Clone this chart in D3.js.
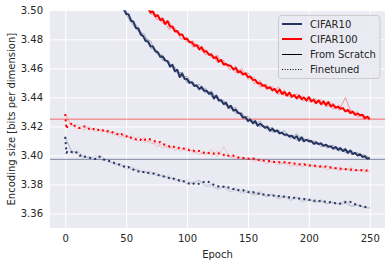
<!DOCTYPE html>
<html>
<head>
<meta charset="utf-8">
<script src="https://cdn.jsdelivr.net/npm/d3@7"></script>
<style>
  body { margin: 0; background: #fff; }
  text { font-family: "DejaVu Sans", sans-serif; fill: #262626; }
</style>
</head>
<body>
<div id="chart"></div>
<script>
// tick labels
var xTicks = [0, 50, 100, 150, 200, 250];
var yTicks = [3.36, 3.38, 3.40, 3.42, 3.44, 3.46, 3.48, 3.50];

// reference lines (bits per dimension)
var refCifar10 = 3.3973;
var refCifar100 = 3.4250;

// from scratch, mean curves (epochs 40/60 .. 250 step 2)
var c10ScratchStart = 40;
var c10Scratch = [
  3.5090, 3.5062, 3.5058, 3.5022, 3.5014,
  3.4975, 3.4972, 3.4928, 3.4921, 3.4878,
  3.4875, 3.4832, 3.4822, 3.4788, 3.4785,
  3.4752, 3.4750, 3.4718, 3.4712, 3.4680,
  3.4681, 3.4655, 3.4650, 3.4612, 3.4625,
  3.4580, 3.4590, 3.4540, 3.4566, 3.4528,
  3.4526, 3.4500, 3.4505, 3.4478, 3.4482,
  3.4458, 3.4472, 3.4445, 3.4446, 3.4425,
  3.4432, 3.4392, 3.4412, 3.4378, 3.4380,
  3.4354, 3.4364, 3.4328, 3.4342, 3.4310,
  3.4315, 3.4292, 3.4288, 3.4260, 3.4264,
  3.4238, 3.4248, 3.4222, 3.4236, 3.4205,
  3.4218, 3.4205, 3.4190, 3.4198, 3.4170,
  3.4184, 3.4165, 3.4172, 3.4152, 3.4156,
  3.4142, 3.4145, 3.4130, 3.4136, 3.4118,
  3.4132, 3.4102, 3.4125, 3.4098, 3.4108,
  3.4098, 3.4100, 3.4080, 3.4090, 3.4078,
  3.4082, 3.4066, 3.4074, 3.4060, 3.4064,
  3.4048, 3.4058, 3.4038, 3.4050, 3.4030,
  3.4042, 3.4018, 3.4034, 3.4010, 3.4018,
  3.4000, 3.4008, 3.3990, 3.3994, 3.3978,
  3.3982
];
var c100ScratchStart = 60;
var c100Scratch = [
  3.5080, 3.5055, 3.5055, 3.5022, 3.5020,
  3.4985, 3.4992, 3.4958, 3.4966, 3.4932,
  3.4940, 3.4906, 3.4926, 3.4888, 3.4888,
  3.4855, 3.4858, 3.4830, 3.4834, 3.4802,
  3.4804, 3.4780, 3.4780, 3.4756, 3.4760,
  3.4732, 3.4746, 3.4714, 3.4718, 3.4694,
  3.4696, 3.4670, 3.4678, 3.4646, 3.4658,
  3.4628, 3.4630, 3.4620, 3.4616, 3.4592,
  3.4602, 3.4572, 3.4580, 3.4558, 3.4566,
  3.4540, 3.4543, 3.4521, 3.4520, 3.4497,
  3.4498, 3.4480, 3.4483, 3.4462, 3.4470,
  3.4450, 3.4458, 3.4433, 3.4454, 3.4424,
  3.4436, 3.4412, 3.4433, 3.4404, 3.4416,
  3.4394, 3.4413, 3.4388, 3.4399, 3.4377,
  3.4401, 3.4372, 3.4384, 3.4360, 3.4380,
  3.4354, 3.4373, 3.4346, 3.4368, 3.4337,
  3.4348, 3.4328, 3.4336, 3.4322, 3.4326,
  3.4304, 3.4314, 3.4292, 3.4302, 3.4280,
  3.4288, 3.4277, 3.4280, 3.4256, 3.4267,
  3.4250
];

// from scratch, single runs (step 5)
var c10ScratchRunA = [
  3.5080, 3.5055, 3.4995, 3.4930, 3.4880, 3.4810, 3.4790, 3.4700, 3.4690, 3.4625,
  3.4610, 3.4540, 3.4545, 3.4480, 3.4490, 3.4430, 3.4445, 3.4385, 3.4380, 3.4320,
  3.4330, 3.4260, 3.4270, 3.4215, 3.4235, 3.4180, 3.4195, 3.4150, 3.4170, 3.4115,
  3.4150, 3.4095, 3.4115, 3.4075, 3.4090, 3.4050, 3.4070, 3.4030, 3.4050, 3.4005,
  3.4020, 3.3985, 3.3970
];
var c10ScratchRunB = [
  3.5100, 3.5030, 3.4970, 3.4905, 3.4855, 3.4835, 3.4740, 3.4725, 3.4655, 3.4650,
  3.4575, 3.4570, 3.4500, 3.4505, 3.4450, 3.4465, 3.4405, 3.4410, 3.4350, 3.4345,
  3.4290, 3.4295, 3.4230, 3.4240, 3.4195, 3.4205, 3.4160, 3.4175, 3.4135, 3.4140,
  3.4105, 3.4125, 3.4090, 3.4100, 3.4060, 3.4075, 3.4040, 3.4055, 3.4020, 3.4035,
  3.3995, 3.4005, 3.3985
];
var c100ScratchRunA = [
  3.5070, 3.5050, 3.4975, 3.4970, 3.4910, 3.4925, 3.4850, 3.4840, 3.4780, 3.4790,
  3.4725, 3.4730, 3.4675, 3.4690, 3.4620, 3.4625, 3.4570, 3.4600, 3.4525, 3.4540,
  3.4470, 3.4490, 3.4440, 3.4470, 3.4410, 3.4430, 3.4385, 3.4410, 3.4370, 3.4395,
  3.4345, 3.4370, 3.4320, 3.4345, 3.4300, 3.4310, 3.4265, 3.4280, 3.4240
];
var c100ScratchRunB = [
  3.5095, 3.5020, 3.5010, 3.4935, 3.4950, 3.4870, 3.4880, 3.4800, 3.4815, 3.4745,
  3.4760, 3.4695, 3.4705, 3.4640, 3.4655, 3.4590, 3.4615, 3.4550, 3.4570, 3.4495,
  3.4515, 3.4455, 3.4475, 3.4420, 3.4450, 3.4395, 3.4425, 3.4375, 3.4410, 3.4355,
  3.4385, 3.4335, 3.4360, 3.4310, 3.4400, 3.4290, 3.4300, 3.4250, 3.4270
];

// finetuned, mean curves (epochs 0, 1, 2, 4, ... 250)
var c10Finetuned = [
  3.4128, 3.4018, 3.4030,
  3.4026, 3.4022, 3.4028, 3.4016, 3.3998,
  3.4004, 3.3992, 3.3990, 3.3984, 3.3980,
  3.3975, 3.3978, 3.3992, 3.3986, 3.3970,
  3.3966, 3.3962, 3.3955, 3.3950, 3.3946,
  3.3938, 3.3932, 3.3924, 3.3915, 3.3920,
  3.3908, 3.3902, 3.3895, 3.3890, 3.3893,
  3.3885, 3.3889, 3.3880, 3.3878, 3.3876,
  3.3872, 3.3866, 3.3860, 3.3858, 3.3852,
  3.3848, 3.3842, 3.3844, 3.3836, 3.3832,
  3.3826, 3.3828, 3.3818, 3.3810, 3.3806,
  3.3812, 3.3804, 3.3800, 3.3806, 3.3811,
  3.3818, 3.3822, 3.3816, 3.3805, 3.3798,
  3.3792, 3.3786, 3.3782, 3.3785, 3.3776,
  3.3780, 3.3772, 3.3768, 3.3770, 3.3762,
  3.3758, 3.3761, 3.3752, 3.3748, 3.3744,
  3.3748, 3.3740, 3.3736, 3.3739, 3.3730,
  3.3734, 3.3726, 3.3728, 3.3722, 3.3725,
  3.3718, 3.3720, 3.3714, 3.3716, 3.3710,
  3.3712, 3.3706, 3.3709, 3.3702, 3.3704,
  3.3698, 3.3700, 3.3694, 3.3692, 3.3695,
  3.3688, 3.3690, 3.3684, 3.3686, 3.3680,
  3.3682, 3.3676, 3.3679, 3.3674, 3.3670,
  3.3672, 3.3668, 3.3674, 3.3678, 3.3682,
  3.3680, 3.3676, 3.3664, 3.3658, 3.3654,
  3.3650, 3.3646, 3.3642, 3.3640
];
var c100Finetuned = [
  3.4285, 3.4183, 3.4205,
  3.4212, 3.4224, 3.4202, 3.4192, 3.4188,
  3.4196, 3.4199, 3.4186, 3.4183, 3.4190,
  3.4176, 3.4182, 3.4171, 3.4178, 3.4168,
  3.4172, 3.4160, 3.4163, 3.4152, 3.4150,
  3.4140, 3.4148, 3.4135, 3.4131, 3.4138,
  3.4122, 3.4118, 3.4110, 3.4102, 3.4109,
  3.4098, 3.4112, 3.4115, 3.4110, 3.4106,
  3.4095, 3.4088, 3.4092, 3.4078, 3.4074,
  3.4068, 3.4060, 3.4066, 3.4055, 3.4058,
  3.4049, 3.4052, 3.4045, 3.4041, 3.4036,
  3.4039, 3.4030, 3.4026, 3.4031, 3.4022,
  3.4018, 3.4024, 3.4016, 3.4020, 3.4012,
  3.4019, 3.4014, 3.4008, 3.4004, 3.4010,
  3.3998, 3.3994, 3.3999, 3.3990, 3.3986,
  3.3989, 3.3982, 3.3984, 3.3978, 3.3976,
  3.3980, 3.3972, 3.3968, 3.3971, 3.3964,
  3.3966, 3.3960, 3.3962, 3.3958, 3.3955,
  3.3958, 3.3952, 3.3950, 3.3954, 3.3946,
  3.3948, 3.3942, 3.3945, 3.3938, 3.3940,
  3.3936, 3.3939, 3.3932, 3.3933, 3.3928,
  3.3931, 3.3926, 3.3922, 3.3925, 3.3920,
  3.3923, 3.3916, 3.3918, 3.3914, 3.3912,
  3.3916, 3.3908, 3.3910, 3.3905, 3.3907,
  3.3902, 3.3904, 3.3900, 3.3898, 3.3901,
  3.3896, 3.3894, 3.3897, 3.3892
];

// finetuned, single runs (epochs 0 .. 250 step 5)
var c10FinetunedRunA = [
  3.4120, 3.4035, 3.4010, 3.3985, 3.3995, 3.3970, 3.3995, 3.3955, 3.3950, 3.3925,
  3.3930, 3.3900, 3.3905, 3.3880, 3.3890, 3.3860, 3.3865, 3.3840, 3.3845, 3.3820,
  3.3830, 3.3800, 3.3825, 3.3795, 3.3800, 3.3775, 3.3790, 3.3765, 3.3775, 3.3750,
  3.3760, 3.3735, 3.3750, 3.3720, 3.3735, 3.3710, 3.3725, 3.3700, 3.3715, 3.3690,
  3.3705, 3.3680, 3.3695, 3.3670, 3.3680, 3.3665, 3.3690, 3.3650, 3.3660, 3.3640,
  3.3635
];
var c10FinetunedRunB = [
  3.4135, 3.4020, 3.4030, 3.3995, 3.3980, 3.4000, 3.3965, 3.3975, 3.3935, 3.3945,
  3.3905, 3.3920, 3.3885, 3.3895, 3.3870, 3.3880, 3.3850, 3.3860, 3.3825, 3.3835,
  3.3805, 3.3815, 3.3830, 3.3785, 3.3790, 3.3765, 3.3780, 3.3750, 3.3760, 3.3740,
  3.3745, 3.3725, 3.3740, 3.3715, 3.3725, 3.3700, 3.3715, 3.3690, 3.3705, 3.3680,
  3.3695, 3.3675, 3.3685, 3.3665, 3.3675, 3.3660, 3.3670, 3.3650, 3.3655, 3.3645,
  3.3640
];
var c100FinetunedRunA = [
  3.4280, 3.4215, 3.4185, 3.4205, 3.4178, 3.4190, 3.4160, 3.4175, 3.4140, 3.4150,
  3.4120, 3.4135, 3.4095, 3.4125, 3.4080, 3.4085, 3.4050, 3.4070, 3.4035, 3.4050,
  3.4030, 3.4040, 3.4005, 3.4025, 3.4000, 3.4030, 3.3995, 3.4000, 3.3975, 3.3990,
  3.3970, 3.3985, 3.3955, 3.3975, 3.3950, 3.3960, 3.3940, 3.3955, 3.3925, 3.3945,
  3.3925, 3.3935, 3.3915, 3.3930, 3.3905, 3.3920, 3.3900, 3.3915, 3.3895, 3.3905,
  3.3885
];
var c100FinetunedRunB = [
  3.4290, 3.4200, 3.4215, 3.4175, 3.4200, 3.4165, 3.4180, 3.4150, 3.4165, 3.4125,
  3.4145, 3.4105, 3.4130, 3.4090, 3.4100, 3.4060, 3.4080, 3.4045, 3.4060, 3.4030,
  3.4055, 3.4015, 3.4030, 3.4000, 3.4040, 3.3990, 3.4060, 3.3985, 3.3995, 3.3970,
  3.3985, 3.3960, 3.3970, 3.3945, 3.3960, 3.3935, 3.3950, 3.3925, 3.3940, 3.3920,
  3.3945, 3.3915, 3.3925, 3.3900, 3.3915, 3.3895, 3.3910, 3.3890, 3.3900, 3.3885,
  3.3895
];

var navy = "#26355f",
    red = "#ff0000";

var width = 392,
    height = 266;
var plotLeft = 50, plotRight = 385, plotTop = 10.3, plotBottom = 228;

var svg = d3.select("#chart")
    .append("svg")
    .attr("width", width)
    .attr("height", height);

var x = d3.scaleLinear().domain([-12.5, 262.5]).range([plotLeft, plotRight]);
var y = d3.scaleLinear().domain([3.35, 3.50]).range([plotBottom, plotTop]);

// plot background
svg.append("rect")
    .attr("x", plotLeft).attr("y", plotTop)
    .attr("width", plotRight - plotLeft).attr("height", plotBottom - plotTop)
    .attr("fill", "#eaeaf2");

svg.append("clipPath").attr("id", "clip")
    .append("rect")
    .attr("x", plotLeft).attr("y", plotTop)
    .attr("width", plotRight - plotLeft).attr("height", plotBottom - plotTop);

// grid
var xAxis = svg.append("g")
    .attr("transform", "translate(0," + plotBottom + ")")
    .call(d3.axisBottom(x).tickValues(xTicks).tickSize(-(plotBottom - plotTop)).tickPadding(7));
var yAxis = svg.append("g")
    .attr("transform", "translate(" + plotLeft + ",0)")
    .call(d3.axisLeft(y).tickValues(yTicks).tickFormat(d3.format(".2f")).tickSize(-(plotRight - plotLeft)).tickPadding(7));

[xAxis, yAxis].forEach(function(a) {
    a.select(".domain").remove();
    a.selectAll(".tick line").attr("stroke", "#ffffff").attr("stroke-width", 1);
    a.selectAll(".tick text")
        .attr("font-size", 10)
        .attr("font-family", "DejaVu Sans, sans-serif")
        .attr("fill", "#262626");
});

var plot = svg.append("g").attr("clip-path", "url(#clip)");

// horizontal reference lines
plot.append("line")
    .attr("x1", plotLeft).attr("x2", plotRight)
    .attr("y1", y(refCifar100)).attr("y2", y(refCifar100))
    .attr("stroke", red).attr("stroke-opacity", 0.55).attr("stroke-width", 1);
plot.append("line")
    .attr("x1", plotLeft).attr("x2", plotRight)
    .attr("y1", y(refCifar10)).attr("y2", y(refCifar10))
    .attr("stroke", navy).attr("stroke-opacity", 0.55).attr("stroke-width", 1);

function toPoints(values, epochs) {
    var n = Math.min(values.length, epochs.length);
    var pts = [];
    for (var i = 0; i < n; i++) pts.push([epochs[i], values[i]]);
    return pts;
}

var line = d3.line()
    .x(function(d) { return x(d[0]); })
    .y(function(d) { return y(d[1]); });

var fineEpochs = [0, 1].concat(d3.range(2, 251, 2));
var fineRunEpochs = d3.range(0, 251, 5);

function draw(pts, color, w, opacity, dash) {
    var p = plot.append("path")
        .datum(pts)
        .attr("d", line)
        .attr("fill", "none")
        .attr("stroke", color)
        .attr("stroke-width", w)
        .attr("stroke-opacity", opacity)
        .attr("stroke-linejoin", "round");
    if (dash) p.attr("stroke-dasharray", dash);
}

// thin single runs
draw(toPoints(c10ScratchRunA, d3.range(c10ScratchStart, 251, 5)), navy, 0.8, 0.45);
draw(toPoints(c10ScratchRunB, d3.range(c10ScratchStart, 251, 5)), navy, 0.8, 0.45);
draw(toPoints(c100ScratchRunA, d3.range(c100ScratchStart, 251, 5)), red, 0.8, 0.45);
draw(toPoints(c100ScratchRunB, d3.range(c100ScratchStart, 251, 5)), red, 0.8, 0.45);
draw(toPoints(c10FinetunedRunA, fineRunEpochs), navy, 0.8, 0.22);
draw(toPoints(c10FinetunedRunB, fineRunEpochs), navy, 0.8, 0.22);
draw(toPoints(c100FinetunedRunA, fineRunEpochs), red, 0.8, 0.22);
draw(toPoints(c100FinetunedRunB, fineRunEpochs), red, 0.8, 0.22);

// mean curves
draw(toPoints(c10Scratch, d3.range(c10ScratchStart, 251, 2)), navy, 2, 1);
draw(toPoints(c100Scratch, d3.range(c100ScratchStart, 251, 2)), red, 2, 1);
draw(toPoints(c10Finetuned, fineEpochs), navy, 2, 1, "2,3.3");
draw(toPoints(c100Finetuned, fineEpochs), red, 2, 1, "2,3.3");

// axis labels
svg.append("text")
    .attr("x", (plotLeft + plotRight) / 2).attr("y", 258)
    .attr("text-anchor", "middle")
    .attr("font-size", 10)
    .text("Epoch");
svg.append("text")
    .attr("transform", "translate(15," + ((plotTop + plotBottom) / 2) + ") rotate(-90)")
    .attr("text-anchor", "middle")
    .attr("font-size", 10)
    .text("Encoding size [bits per dimension]");

// legend
var legendItems = [
    { label: "CIFAR10", color: navy, w: 2, dash: null },
    { label: "CIFAR100", color: red, w: 2, dash: null },
    { label: "From Scratch", color: "#000", w: 1, dash: null },
    { label: "Finetuned", color: "#000", w: 1, dash: "1,1.65" }
];
var legend = svg.append("g");
legend.append("rect")
    .attr("x", 278.5).attr("y", 15.5)
    .attr("width", 101.5).attr("height", 63)
    .attr("rx", 3)
    .attr("fill", "#eaeaf2").attr("fill-opacity", 0.8)
    .attr("stroke", "#cccccc").attr("stroke-width", 1);
legendItems.forEach(function(d, i) {
    var ly = 24 + i * 15;
    var l = legend.append("line")
        .attr("x1", 282).attr("x2", 302)
        .attr("y1", d.w === 1 ? ly + 0.5 : ly).attr("y2", d.w === 1 ? ly + 0.5 : ly)
        .attr("stroke", d.color).attr("stroke-width", d.w);
    if (d.dash) l.attr("stroke-dasharray", d.dash);
    legend.append("text")
        .attr("x", 310).attr("y", ly)
        .attr("dy", "0.35em")
        .attr("font-size", 10)
        .text(d.label);
});
</script>
</body>
</html>
